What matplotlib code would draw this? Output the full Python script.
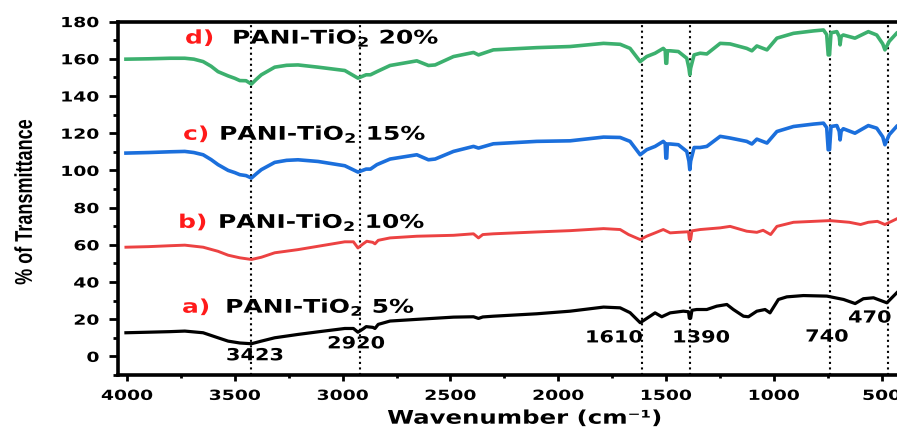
import matplotlib
matplotlib.use('Agg')
import matplotlib.pyplot as plt
from matplotlib import patheffects
from matplotlib.transforms import Affine2D
from matplotlib.ticker import MultipleLocator

# FTIR spectra of PANI-TiO2 composites (curves offset vertically)
wn_cd = [4005, 3900, 3800, 3732, 3690, 3647, 3610, 3578, 3531, 3500, 3477, 3448, 3423, 3400, 3377,
         3315, 3260, 3207, 3114, 2990, 2929, 2891, 2871, 2841, 2780, 2656, 2602, 2571, 2486,
         2393, 2370, 2301, 2100, 1945, 1790, 1713, 1667, 1620, 1590, 1551, 1513, 1504, 1501,
         1497, 1494, 1481, 1443, 1404, 1394, 1390, 1386, 1370, 1342, 1311, 1249, 1203, 1126,
         1102, 1079, 1032, 986, 909, 816, 770, 755, 748, 742, 735, 708, 697, 693, 688, 678,
         624, 562, 523, 495, 485, 465, 431]
t_d = [159.8, 160.0, 160.3, 160.3, 159.8, 158.5, 156.0, 153.1, 150.8, 149.5, 148.3, 148.2, 146.4, 149.0, 151.4,
       155.5, 156.5, 156.7, 155.5, 153.7, 149.6, 151.4, 151.4, 153.1, 156.4, 158.9, 156.4, 156.7, 161.2,
       163.4, 162.1, 164.8, 166.0, 166.6, 168.3, 167.8, 165.6, 158.5, 161.2, 163.0, 165.6, 164.5, 157.6,
       157.6, 164.3, 164.3, 163.9, 160.3, 155.0, 151.4, 155.0, 162.1, 163.0, 162.6, 168.3, 168.0, 165.6,
       164.3, 166.9, 164.8, 171.1, 173.7, 175.0, 175.5, 173.0, 162.1, 162.1, 174.0, 174.6, 172.0, 167.5, 172.0, 172.8,
       171.1, 174.6, 172.8, 168.0, 164.8, 169.4, 173.7]
t_c = [109.3, 109.6, 110.0, 110.2, 109.6, 108.4, 105.8, 103.1, 100.0, 98.8, 97.7, 97.2, 95.9, 98.2, 100.4,
       104.3, 105.4, 105.7, 104.8, 102.5, 99.1, 100.7, 100.7, 103.1, 106.1, 108.4, 105.7, 106.1, 110.2,
       112.9, 112.0, 114.3, 115.6, 115.9, 117.9, 117.7, 115.6, 108.4, 111.1, 112.9, 115.6, 114.5, 106.6,
       106.6, 114.2, 114.2, 113.8, 110.2, 105.0, 100.4, 105.0, 112.3, 112.3, 112.9, 118.3, 117.4, 115.6,
       114.2, 116.8, 114.7, 120.9, 123.6, 124.9, 125.4, 123.0, 111.1, 111.1, 123.6, 124.1, 121.0, 116.4, 121.0, 122.4,
       120.0, 124.1, 122.7, 118.0, 113.8, 119.2, 123.6]

wn_b = [4005, 3900, 3800, 3732, 3647, 3578, 3531, 3477, 3423, 3377, 3315, 3207, 3114, 2990,
        2950, 2929, 2905, 2888, 2860, 2850, 2835, 2780, 2656, 2486, 2393, 2370, 2350, 2301,
        2100, 1945, 1790, 1713, 1674, 1620, 1590, 1551, 1513, 1481, 1443, 1396, 1392, 1386,
        1380, 1342, 1249, 1203, 1126, 1079, 1050, 1015, 986, 909, 816, 740, 650, 598,
        562, 520, 485, 431]
t_b = [58.7, 59.0, 59.5, 59.8, 58.7, 56.5, 54.4, 53.0, 52.1, 53.3, 55.7, 57.4, 59.2, 61.6,
       61.6, 58.3, 60.5, 61.9, 61.3, 60.5, 62.4, 63.7, 64.6, 65.1, 65.9, 63.7, 65.5, 65.9,
       66.9, 67.6, 68.7, 68.2, 65.5, 62.8, 64.6, 66.4, 68.2, 66.4, 66.7, 67.0, 62.8, 62.8,
       67.5, 68.2, 69.1, 69.9, 67.3, 66.7, 67.8, 65.5, 69.9, 72.1, 72.6, 73.0, 72.1, 70.9,
       72.1, 72.6, 70.9, 73.9]

wn_a = [4005, 3900, 3800, 3732, 3647, 3578, 3531, 3477, 3423, 3377, 3315, 3207, 3114, 2990,
        2950, 2929, 2905, 2891, 2860, 2850, 2835, 2780, 2656, 2486, 2393, 2370, 2350, 2301,
        2100, 1945, 1790, 1713, 1667, 1620, 1574, 1551, 1520, 1481, 1420, 1396, 1392, 1386,
        1380, 1358, 1311, 1265, 1218, 1188, 1141, 1118, 1079, 1041, 1018, 979, 940, 863,
        754, 677, 623, 585, 538, 476, 430]
t_a = [12.7, 13.0, 13.3, 13.6, 12.7, 10.0, 8.2, 7.2, 6.8, 8.2, 10.0, 11.8, 13.2, 15.0,
       15.0, 13.0, 14.8, 16.0, 15.6, 15.0, 17.2, 19.0, 19.9, 21.1, 21.3, 20.4, 21.2, 21.6,
       22.9, 24.3, 26.5, 26.1, 23.5, 18.1, 21.6, 23.4, 21.3, 23.4, 24.3, 24.0, 20.5, 20.5,
       24.8, 25.2, 25.2, 27.0, 27.9, 25.2, 21.6, 21.3, 24.3, 25.2, 23.4, 30.6, 32.0, 32.7,
       32.4, 30.6, 28.4, 31.0, 31.5, 28.8, 34.2]

peaks = [3423, 2920, 1610, 1390, 740, 470]
peak_labels = ['3423', '2920', '1610', '1390', '740', '470']
peak_label_x = [3541, 3072, 1876, 1472, 855, 656]
peak_label_y = [-2.1, 4.3, 7.5, 7.5, 8.0, 18.2]

series_tags = ['d)', 'c)', 'b)', 'a)']
series_names = [r'PANI-TiO$_\mathbf{2}$ 20%', r'PANI-TiO$_\mathbf{2}$ 15%',
                r'PANI-TiO$_\mathbf{2}$ 10%', r'PANI-TiO$_\mathbf{2}$ 5%']
tag_x = [3731, 3740, 3763, 3745]
name_x = [3513, 3573, 3578, 3545]
label_y = [168.2, 116.5, 69.1, 23.5]

colors = ['#3cb06e', '#1b6fdc', '#ec4242', '#000000']


class Stretch(patheffects.AbstractPathEffect):
    """Draw text glyphs widened by sx (along the text) and sy (across it)."""
    def __init__(self, sx=1.0, sy=1.0, anchor='center'):
        super().__init__()
        self.sx, self.sy, self.anchor = sx, sy, anchor

    def draw_path(self, renderer, gc, tpath, affine, rgbFace=None):
        ext = tpath.get_extents()
        if self.anchor == 'left':
            x0 = 0.0
        elif self.anchor == 'right':
            x0 = ext.x1
        else:
            x0 = (ext.x0 + ext.x1) / 2
        y0 = (ext.y0 + ext.y1) / 2
        pre = Affine2D().translate(-x0, -y0).scale(self.sx, self.sy).translate(x0, y0)
        renderer.draw_path(gc, tpath, pre + affine, rgbFace)


plt.rcParams['font.family'] = 'DejaVu Sans'
plt.rcParams['font.weight'] = 'bold'

fig = plt.figure(figsize=(8.97, 4.32), dpi=100)
ax = fig.add_axes([0.1315, 0.132, 0.8685, 0.818])

for w in peaks:
    ax.axvline(w, color='black', ls=':', lw=1.5, zorder=1)

ax.plot(wn_cd, t_d, color=colors[0], lw=2.6, zorder=3)
ax.plot(wn_cd, t_c, color=colors[1], lw=2.6, zorder=3)
ax.plot(wn_b, t_b, color=colors[2], lw=2.1, zorder=3)
ax.plot(wn_a, t_a, color=colors[3], lw=2.3, zorder=3)

wide_left = [Stretch(1.33, 1.0, 'left')]
for tag, name, tx, nx, ly in zip(series_tags, series_names, tag_x, name_x, label_y):
    ax.text(tx, ly, tag, color='#ff1a1a', fontsize=13.5, fontweight='bold',
            ha='left', va='baseline', path_effects=wide_left, zorder=4)
    ax.text(nx, ly, name, color='black', fontsize=13.5, fontweight='bold',
            ha='left', va='baseline', path_effects=wide_left, zorder=4)

for lab, lx, ly in zip(peak_labels, peak_label_x, peak_label_y):
    ax.text(lx, ly, lab, color='black', fontsize=12, fontweight='bold',
            ha='left', va='baseline', path_effects=[Stretch(1.25, 1.0, 'left')], zorder=4)

ax.set_xlim(4042, 429)
ax.set_ylim(-10, 180)
ax.set_xticks([4000, 3500, 3000, 2500, 2000, 1500, 1000, 500])
ax.set_yticks(range(0, 181, 20))
ax.xaxis.set_minor_locator(MultipleLocator(250))
ax.yaxis.set_minor_locator(MultipleLocator(10))
ax.tick_params(axis='x', which='major', direction='out', length=4, width=2, pad=6, labelsize=10)
ax.tick_params(axis='x', which='minor', direction='out', length=2.5, width=2)
ax.tick_params(axis='y', which='major', direction='out', length=6.5, width=2, pad=7, labelsize=10)
ax.tick_params(axis='y', which='minor', direction='out', length=3.5, width=2)
for lab in ax.get_xticklabels():
    lab.set_fontweight('bold')
    lab.set_path_effects([Stretch(1.35, 1.0, 'center')])
for lab in ax.get_yticklabels():
    lab.set_fontweight('bold')
    lab.set_path_effects([Stretch(1.35, 1.0, 'right')])

for side in ['left', 'top', 'bottom']:
    ax.spines[side].set_linewidth(2.6)
ax.spines['right'].set_visible(False)

fig.text(0.585, 0.032, 'Wavenumber (cm⁻¹)', fontsize=13.5, fontweight='bold',
         ha='center', va='center', path_effects=[Stretch(1.3, 1.0, 'center')])
fig.text(0.028, 0.532, '% of Transmittance', fontsize=13, fontweight='bold',
         family='Liberation Sans', rotation=90, ha='center', va='center',
         path_effects=[Stretch(1.0, 1.35, 'center')])

fig.savefig('out.png', dpi=100)
